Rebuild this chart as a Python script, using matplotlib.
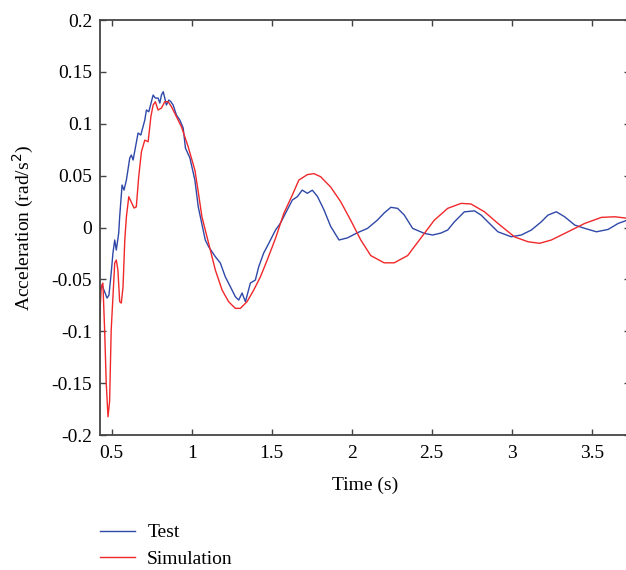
import matplotlib.pyplot as plt

plt.rcParams['font.family'] = ['Liberation Serif', 'DejaVu Serif']
plt.rcParams['axes.unicode_minus'] = False

# Test (measured) angular acceleration
t_test = [0.425, 0.439, 0.456, 0.471, 0.483, 0.497, 0.508, 0.519, 0.529, 0.544,
          0.550, 0.565, 0.577, 0.592, 0.613, 0.623, 0.634, 0.665, 0.682, 0.707,
          0.717, 0.732, 0.759, 0.773, 0.790, 0.801, 0.811, 0.822, 0.832, 0.842,
          0.857, 0.870, 0.884, 0.905, 0.926, 0.947, 0.961, 0.989, 1.020, 1.041,
          1.085, 1.106, 1.148, 1.179, 1.210, 1.242, 1.273, 1.294, 1.315, 1.336,
          1.367, 1.398, 1.419, 1.450, 1.482, 1.524, 1.555, 1.597, 1.629, 1.660,
          1.691, 1.723, 1.754, 1.786, 1.827, 1.869, 1.921, 1.973, 2.036, 2.099,
          2.161, 2.203, 2.245, 2.287, 2.329, 2.381, 2.454, 2.506, 2.558, 2.600,
          2.642, 2.704, 2.767, 2.809, 2.851, 2.914, 2.997, 3.060, 3.123, 3.185,
          3.227, 3.279, 3.331, 3.394, 3.457, 3.530, 3.603, 3.666, 3.725]
a_test = [-0.0619, -0.0554, -0.0619, -0.0680, -0.0651, -0.0439, -0.0246, -0.0120, -0.0217, -0.0053,
          0.0104, 0.0410, 0.0361, 0.0458, 0.0670, 0.0699, 0.0651, 0.0911, 0.0892, 0.1036,
          0.1133, 0.1116, 0.1277, 0.1248, 0.1248, 0.1200, 0.1277, 0.1309, 0.1248, 0.1181,
          0.1229, 0.1213, 0.1181, 0.1084, 0.1036, 0.0959, 0.0766, 0.0670, 0.0458, 0.0200,
          -0.0120, -0.0185, -0.0281, -0.0342, -0.0474, -0.0571, -0.0667, -0.0699, -0.0631, -0.0715,
          -0.0535, -0.0506, -0.0378, -0.0246, -0.0152, -0.0024, 0.0043, 0.0169, 0.0265, 0.0297,
          0.0361, 0.0330, 0.0360, 0.0300, 0.0170, 0.0010, -0.0120, -0.0100, -0.0050, -0.0008,
          0.0072, 0.0140, 0.0195, 0.0185, 0.0120, -0.0008, -0.0056, -0.0072, -0.0053, -0.0024,
          0.0055, 0.0151, 0.0161, 0.0120, 0.0055, -0.0041, -0.0089, -0.0072, -0.0024, 0.0055,
          0.0120, 0.0152, 0.0104, 0.0024, -0.0008, -0.0041, -0.0018, 0.0040, 0.0072]

# Simulation
t_sim = [0.420, 0.435, 0.445, 0.456, 0.466, 0.477, 0.487, 0.497, 0.508, 0.519,
         0.529, 0.539, 0.550, 0.560, 0.571, 0.582, 0.592, 0.607, 0.640, 0.654,
         0.669, 0.686, 0.707, 0.728, 0.745, 0.759, 0.773, 0.790, 0.811, 0.832,
         0.853, 0.874, 0.905, 0.936, 0.978, 1.020, 1.041, 1.064, 1.106, 1.148,
         1.190, 1.231, 1.273, 1.304, 1.346, 1.388, 1.430, 1.472, 1.524, 1.576,
         1.629, 1.670, 1.723, 1.764, 1.806, 1.869, 1.931, 1.994, 2.057, 2.119,
         2.203, 2.266, 2.350, 2.433, 2.516, 2.600, 2.684, 2.746, 2.830, 2.914,
         3.018, 3.102, 3.175, 3.248, 3.353, 3.457, 3.561, 3.645, 3.725]
a_sim = [-0.1017, -0.0571, -0.0535, -0.0988, -0.1499, -0.1824, -0.1679, -0.0988, -0.0667, -0.0342,
         -0.0313, -0.0410, -0.0715, -0.0728, -0.0571, -0.0120, 0.0104, 0.0297, 0.0188, 0.0200,
         0.0490, 0.0731, 0.0843, 0.0827, 0.1068, 0.1181, 0.1213, 0.1133, 0.1152, 0.1213,
         0.1213, 0.1164, 0.1068, 0.0972, 0.0779, 0.0554, 0.0345, 0.0104, -0.0152, -0.0410,
         -0.0602, -0.0715, -0.0779, -0.0779, -0.0715, -0.0602, -0.0474, -0.0313, -0.0104, 0.0137,
         0.0313, 0.0458, 0.051, 0.052, 0.049, 0.039, 0.025, 0.007, -0.012, -0.027,
         -0.034, -0.034, -0.027, -0.010, 0.007, 0.0185, 0.0233, 0.0227, 0.0152, 0.004,
         -0.009, -0.0137, -0.0152, -0.012, -0.004, 0.004, 0.0098, 0.0104, 0.0089]

yticks = [-0.2, -0.15, -0.1, -0.05, 0, 0.05, 0.1, 0.15, 0.2]
ytick_labels = ['-0.2', '-0.15', '-0.1', '-0.05', '0', '0.05', '0.1', '0.15', '0.2']
xticks = [0.5, 1, 1.5, 2, 2.5, 3, 3.5]
xtick_labels = ['0.5', '1', '1.5', '2', '2.5', '3', '3.5']

fig = plt.figure(figsize=(6.26, 5.70), dpi=100)
ax = fig.add_axes([0.1605, 0.2368, 0.846, 0.728])

ax.plot(t_test, a_test, color='#2f48a8', linewidth=1.0, label='Test')
ax.plot(t_sim, a_sim, color='#f0282a', linewidth=1.0, label='Simulation')

ax.set_xlim(0.43, 3.74)
ax.set_ylim(-0.2, 0.2)
ax.set_xticks(xticks)
ax.set_xticklabels(xtick_labels)
ax.set_yticks(yticks)
ax.set_yticklabels(ytick_labels)
ax.tick_params(direction='in', top=True, right=True, length=4, width=1,
               labelsize=14, color='#444444')
ax.tick_params(axis='x', pad=7)
ax.tick_params(axis='y', pad=6)
for s in ax.spines.values():
    s.set_color('#444444')
    s.set_linewidth(1.3)

ax.set_xlabel('Time (s)', fontsize=14, labelpad=11)
ax.set_ylabel('Acceleration (rad/s$^2$)', fontsize=14, labelpad=11)

fig.legend(loc='upper left', bbox_to_anchor=(0.16, 0.081), frameon=False,
           fontsize=14, handlelength=1.8, handletextpad=0.62, labelspacing=0.45,
           borderpad=0, borderaxespad=0)

plt.savefig('out.png', dpi=100)
